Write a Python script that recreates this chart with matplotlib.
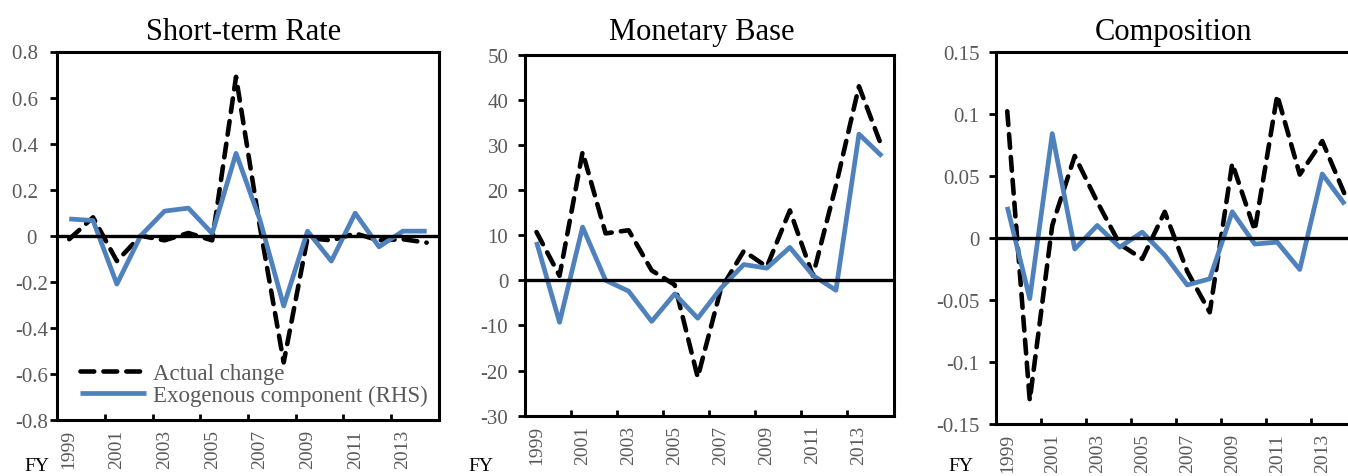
import matplotlib
matplotlib.use('Agg')
import matplotlib.pyplot as plt
from matplotlib.ticker import FixedLocator, FuncFormatter, NullFormatter

plt.rcParams['font.family'] = ['Liberation Serif', 'DejaVu Serif']

# ---------------- data ----------------
years = list(range(1999, 2015))
year_labels = [str(y) for y in years[::2]]

rate_actual = [-0.015, 0.08, -0.11, 0.0, -0.02, 0.012, -0.02, 0.69, 0.04, -0.55,
               -0.01, -0.02, 0.01, -0.02, -0.015, -0.03]
rate_exog = [0.073, 0.066, -0.21, 0.0, 0.107, 0.12, 0.01, 0.358, 0.07, -0.305,
             0.02, -0.11, 0.098, -0.048, 0.02, 0.02]

base_actual = [10.7, 1.0, 28.4, 10.4, 11.1, 2.2, -1.0, -21.5, -2.0, 6.5,
               3.0, 15.5, 1.0, 21.0, 43.0, 29.5]
base_exog = [8.5, -9.3, 11.8, 0.0, -2.4, -9.1, -3.0, -8.4, -1.8, 3.5,
             2.7, 7.3, 1.1, -2.2, 32.4, 27.5]

comp_actual = [0.102, -0.131, 0.01, 0.066, 0.029, -0.005, -0.017, 0.021, -0.027, -0.06,
               0.06, 0.006, 0.115, 0.051, 0.078, 0.035]
comp_exog = [0.025, -0.049, 0.084, -0.009, 0.010, -0.0075, 0.0046, -0.014, -0.038, -0.033,
             0.021, -0.005, -0.0035, -0.0255, 0.0515, 0.027]

titles = ["Short-term Rate", "Monetary Base", "Composition"]
series_names = ["Actual change", "Exogenous component (RHS)"]
y_ticks = [
    [-0.8, -0.6, -0.4, -0.2, 0, 0.2, 0.4, 0.6, 0.8],
    [-30, -20, -10, 0, 10, 20, 30, 40, 50],
    [-0.15, -0.1, -0.05, 0, 0.05, 0.1, 0.15],
]

# ---------------- style ----------------
BLUE = '#4F81BD'
GRAY = '#595959'
W, H = 1348, 477
fig = plt.figure(figsize=(W / 100, H / 100), dpi=100)

# axes boxes in pixels: left, right, top, bottom
boxes = [(57.3, 438.6, 52.5, 421.0),
         (525.0, 893.5, 55.7, 416.7),
         (996.0, 1356.0, 52.7, 425.0)]
title_x = [244, 702, 1174]
fy_x = [24, 468, 948]

actuals = [rate_actual, base_actual, comp_actual]
exogs = [rate_exog, base_exog, comp_exog]

x = list(range(len(years)))

for k in range(3):
    l, r, t, b = boxes[k]
    ax = fig.add_axes([l / W, 1 - b / H, (r - l) / W, (b - t) / H])
    ax.set_xlim(-0.5, len(years) - 0.5)
    ax.set_ylim(y_ticks[k][0], y_ticks[k][-1])

    la, = ax.plot(x, actuals[k], color='black', lw=3.3,
                  linestyle=(0, (3.0, 2.0)), dash_capstyle='round',
                  dash_joinstyle='round', zorder=2, label=series_names[0])
    lb, = ax.plot(x, exogs[k], color=BLUE, lw=3.4, solid_joinstyle='round',
                  solid_capstyle='butt', zorder=3, label=series_names[1])
    ax.axhline(0, color='black', lw=2.4, zorder=4)

    for s in ax.spines.values():
        s.set_linewidth(2.2)
        s.set_color('black')
        s.set_zorder(5)

    # x axis: tick marks at category-pair boundaries, labels on odd years
    ax.xaxis.set_major_locator(FixedLocator([i + 1.5 for i in range(0, 14, 2)]))
    ax.xaxis.set_major_formatter(NullFormatter())
    ax.xaxis.set_minor_locator(FixedLocator(list(range(0, 16, 2))))
    ax.set_xticklabels(year_labels, minor=True)
    ax.tick_params(axis='x', which='major', direction='in', length=4.5, width=2.0,
                   color='black', top=False)
    ax.tick_params(axis='x', which='minor', length=0, pad=6.5, labelsize=14,
                   labelcolor=GRAY, labelrotation=90)

    # y axis
    ax.yaxis.set_major_locator(FixedLocator(y_ticks[k]))
    if k == 0:
        fmt = FuncFormatter(lambda v, p: ('%g' % round(v, 4)) + ('' if v < -1e-9 else '  '))
        pad = 1.5
    else:
        fmt = FuncFormatter(lambda v, p: '%g' % round(v, 4))
        pad = 7
    ax.yaxis.set_major_formatter(fmt)
    ax.tick_params(axis='y', which='major', direction='out', length=5, width=2.0,
                   color='black', labelsize=15, labelcolor=GRAY, pad=pad, right=False)

    fig.text(title_x[k] / W, 1 - 40 / H, titles[k], ha='center', va='baseline',
             fontsize=22, color='black')
    fig.text(fy_x[k] / W, 1 - 467 / H, 'FY', ha='left', va='center',
             fontsize=14, color='black')

    if k == 0:
        leg = ax.legend(handles=[la, lb], loc='center left',
                        bbox_to_anchor=((80 - l) / (r - l), (b - 385.5) / (b - t)),
                        frameon=False, fontsize=16.5, handlelength=2.9,
                        handletextpad=0.3, labelspacing=0.05, borderpad=0,
                        borderaxespad=0)
        for txt in leg.get_texts():
            txt.set_color(GRAY)

fig.savefig('out.png', dpi=100)
